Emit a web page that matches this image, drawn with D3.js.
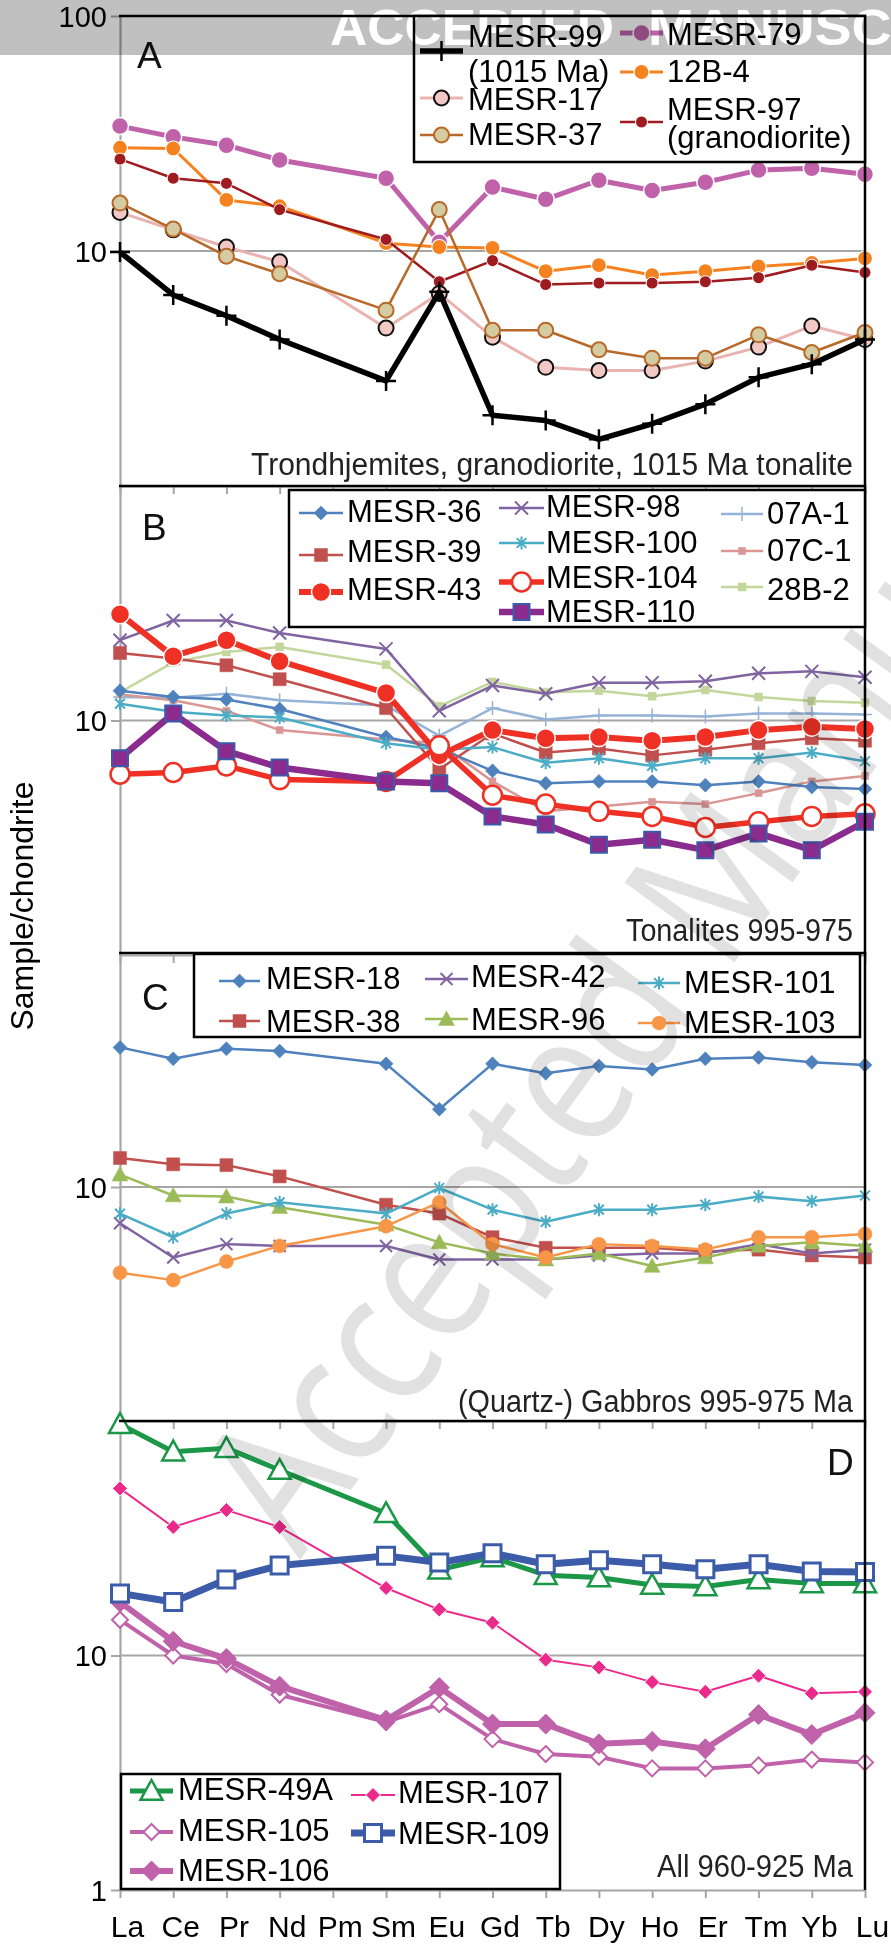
<!DOCTYPE html>
<html>
<head>
<meta charset="utf-8">
<script src="https://cdn.jsdelivr.net/npm/d3@7"></script>
<style>
  html, body { margin: 0; padding: 0; background: #ffffff; }
  svg { display: block; }
  text { font-family: "Liberation Sans", Arial, Helvetica, sans-serif; }
</style>
</head>
<body>
<svg id="chart" width="891" height="1946"></svg>
<script>
// ---------------------------------------------------------------
// Chondrite-normalised REE patterns (Pm not analysed -> null)
// ---------------------------------------------------------------
const ELEMENTS = ["La","Ce","Pr","Nd","Pm","Sm","Eu","Gd","Tb","Dy","Ho","Er","Tm","Yb","Lu"];

// Panel A - trondhjemites, granodiorite, 1015 Ma tonalite
const MESR_99  = [9.9, 6.5, 5.3, 4.2, null, 2.8, 6.7, 2.0, 1.9, 1.58, 1.84, 2.23, 2.9, 3.3, 4.2];
const MESR_79  = [34.0, 30.6, 28.2, 24.4, null, 20.4, 10.9, 18.7, 16.6, 20.0, 18.1, 19.6, 22.1, 22.5, 21.2];
const S_12B_4  = [27.5, 27.3, 16.5, 15.5, null, 10.8, 10.4, 10.3, 8.2, 8.7, 7.9, 8.2, 8.6, 8.9, 9.3];
const MESR_17  = [14.6, 12.3, 10.4, 9.0, null, 4.7, 6.6, 4.3, 3.2, 3.1, 3.1, 3.4, 3.9, 4.8, 4.2];
const MESR_37  = [16.0, 12.4, 9.5, 8.0, null, 5.6, 15.0, 4.6, 4.6, 3.8, 3.5, 3.5, 4.4, 3.7, 4.5];
const MESR_97  = [24.6, 20.4, 19.4, 15.0, null, 11.2, 7.4, 9.1, 7.2, 7.3, 7.3, 7.4, 7.7, 8.7, 8.1];

// Panel B - tonalites 995-975
const MESR_36  = [13.4, 12.6, 12.3, 11.2, null, 8.5, 7.6, 6.1, 5.4, 5.5, 5.5, 5.3, 5.5, 5.2, 5.1];
const MESR_39  = [19.4, 18.4, 17.2, 15.0, null, 11.3, 6.2, 8.8, 7.3, 7.6, 7.1, 7.5, 8.0, 8.4, 8.2];
const MESR_43  = [28.4, 18.8, 22.0, 17.9, null, 13.1, 7.1, 9.1, 8.4, 8.5, 8.2, 8.5, 9.1, 9.4, 9.2];
const MESR_98  = [22.0, 26.7, 26.7, 23.6, null, 20.2, 11.0, 14.1, 13.0, 14.5, 14.5, 14.7, 15.9, 16.2, 15.3];
const MESR_100 = [11.8, 10.9, 10.5, 10.3, null, 8.0, 7.5, 7.7, 6.6, 6.9, 6.4, 6.9, 6.9, 7.3, 6.7];
const MESR_104 = [5.9, 6.0, 6.4, 5.6, null, 5.5, 7.8, 4.8, 4.4, 4.1, 3.9, 3.5, 3.7, 3.9, 4.0];
const MESR_110 = [6.9, 10.7, 7.4, 6.3, null, 5.5, 5.4, 3.9, 3.6, 2.95, 3.1, 2.8, 3.3, 2.8, 3.7];
const S_07A_1  = [12.6, 12.5, 13.0, 12.2, null, 11.6, 8.6, 11.3, 10.1, 10.5, 10.5, 10.4, 10.7, 10.7, 10.6];
const S_07C_1  = [12.9, 12.2, 11.0, 9.1, null, 8.3, 8.0, 5.5, 4.1, 4.3, 4.5, 4.4, 4.9, 5.5, 5.8];
const S_28B_2  = [13.2, 17.7, 19.6, 20.6, null, 17.3, 11.5, 14.6, 13.2, 13.4, 12.7, 13.5, 12.6, 12.1, 11.9];

// Panel C - (quartz-) gabbros 995-975 Ma
const MESR_18  = [39.5, 35.3, 39.0, 38.1, null, 33.6, 21.5, 33.6, 30.6, 32.9, 31.8, 35.3, 35.8, 34.1, 33.2];
const MESR_38  = [13.3, 12.5, 12.4, 11.1, null, 8.4, 7.7, 6.1, 5.5, 5.5, 5.5, 5.3, 5.4, 5.1, 5.0];
const MESR_42  = [7.0, 5.0, 5.7, 5.6, null, 5.6, 4.9, 4.9, 4.9, 5.1, 5.2, 5.2, 5.7, 5.2, 5.4];
const MESR_96  = [11.3, 9.2, 9.1, 8.2, null, 6.9, 5.8, 5.2, 4.9, 5.2, 4.6, 5.0, 5.6, 5.8, 5.6];
const MESR_101 = [7.7, 6.1, 7.7, 8.6, null, 7.7, 9.9, 8.0, 7.1, 8.0, 8.0, 8.4, 9.1, 8.7, 9.2];
const MESR_103 = [4.3, 4.0, 4.8, 5.6, null, 6.8, 8.6, 5.7, 5.0, 5.7, 5.6, 5.4, 6.1, 6.1, 6.3];

// Panel D - all 960-925 Ma
const MESR_49A = [97, 74, 76.6, 61.8, null, 40.4, 23.2, 26.2, 22.0, 21.5, 20.0, 19.7, 21.1, 20.3, 20.3];
const MESR_105 = [14.2, 10.0, 9.2, 6.8, null, 5.2, 6.2, 4.4, 3.8, 3.7, 3.3, 3.3, 3.4, 3.6, 3.5];
const MESR_106 = [16.9, 11.5, 9.7, 7.4, null, 5.3, 7.3, 5.1, 5.1, 4.2, 4.3, 4.0, 5.6, 4.6, 5.7];
const MESR_107 = [51.6, 35.3, 41.7, 35.3, null, 19.4, 15.7, 13.8, 9.6, 8.9, 7.7, 7.0, 8.2, 6.9, 7.0];
const MESR_109 = [18.4, 16.9, 21.1, 24.2, null, 26.6, 24.9, 27.3, 24.5, 25.5, 24.5, 23.3, 24.5, 22.8, 22.7];

// Axis tick labels per panel
const TICKS_A = [100, 10];
const TICKS_B = [10];
const TICKS_C = [10];
const TICKS_D = [10, 1];

// Lookup of sample name -> values
const VALUES = {
  "MESR-99": MESR_99, "MESR-79": MESR_79, "12B-4": S_12B_4, "MESR-17": MESR_17,
  "MESR-37": MESR_37, "MESR-97": MESR_97,
  "MESR-36": MESR_36, "MESR-39": MESR_39, "MESR-43": MESR_43, "MESR-98": MESR_98,
  "MESR-100": MESR_100, "MESR-104": MESR_104, "MESR-110": MESR_110,
  "07A-1": S_07A_1, "07C-1": S_07C_1, "28B-2": S_28B_2,
  "MESR-18": MESR_18, "MESR-38": MESR_38, "MESR-42": MESR_42, "MESR-96": MESR_96,
  "MESR-101": MESR_101, "MESR-103": MESR_103,
  "MESR-49A": MESR_49A, "MESR-105": MESR_105, "MESR-106": MESR_106,
  "MESR-107": MESR_107, "MESR-109": MESR_109
};

// Line and marker styling
const STYLES = {
  "MESR-99":  {line: "#000000", lw: 5.5, mk: "plus",     r: 10,  fill: "none",    stroke: "#000000", sw: 2.5},
  "MESR-79":  {line: "#c062aa", lw: 5,   mk: "circle",   r: 8.5, fill: "#c062aa", stroke: "#ffffff", sw: 1.5},
  "12B-4":    {line: "#f5821f", lw: 3,   mk: "circle",   r: 7.5, fill: "#f5821f", stroke: "#ffffff", sw: 1.2},
  "MESR-17":  {line: "#e9b3b1", lw: 3,   mk: "circle",   r: 7.5, fill: "#f2c8c4", stroke: "#111111", sw: 2},
  "MESR-37":  {line: "#b8692a", lw: 2.5, mk: "circle",   r: 7.5, fill: "#d5cba0", stroke: "#b8692a", sw: 2},
  "MESR-97":  {line: "#9e1b20", lw: 2.5, mk: "circle",   r: 6,   fill: "#9e1b20", stroke: "#ffffff", sw: 1},

  "MESR-36":  {line: "#4f81bd", lw: 2.5, mk: "diamond",  r: 7,   fill: "#4f81bd", stroke: "#4f81bd", sw: 0.5},
  "MESR-39":  {line: "#c0504d", lw: 2.5, mk: "square",   r: 6.5, fill: "#c0504d", stroke: "#c0504d", sw: 0.5},
  "MESR-43":  {line: "#ee3124", lw: 6,   mk: "circle",   r: 9.5, fill: "#ee3124", stroke: "#ffffff", sw: 1.5},
  "MESR-98":  {line: "#8064a2", lw: 2.5, mk: "x",        r: 6.5, fill: "none",    stroke: "#8064a2", sw: 2},
  "MESR-100": {line: "#4bacc6", lw: 2.5, mk: "asterisk", r: 6.5, fill: "none",    stroke: "#4bacc6", sw: 2},
  "MESR-104": {line: "#ee3124", lw: 5.5, mk: "circle",   r: 9.5, fill: "#ffffff", stroke: "#ee3124", sw: 2.5},
  "MESR-110": {line: "#8b2b8e", lw: 6.5, mk: "square",   r: 8,   fill: "#8b2b8e", stroke: "#3b5ba9", sw: 2},
  "07A-1":    {line: "#95b3d7", lw: 2.5, mk: "plus",     r: 7,   fill: "none",    stroke: "#95b3d7", sw: 1.5},
  "07C-1":    {line: "#d99694", lw: 2.5, mk: "square",   r: 3.5, fill: "#d99694", stroke: "#d99694", sw: 0.5},
  "28B-2":    {line: "#c3d69b", lw: 2.5, mk: "square",   r: 4,   fill: "#c3d69b", stroke: "#c3d69b", sw: 0.5},

  "MESR-18":  {line: "#4f81bd", lw: 2.5, mk: "diamond",  r: 7,   fill: "#4f81bd", stroke: "#4f81bd", sw: 0.5},
  "MESR-38":  {line: "#c0504d", lw: 2.5, mk: "square",   r: 6.5, fill: "#c0504d", stroke: "#c0504d", sw: 0.5},
  "MESR-42":  {line: "#8064a2", lw: 2.5, mk: "x",        r: 6,   fill: "none",    stroke: "#8064a2", sw: 2},
  "MESR-96":  {line: "#9bbb59", lw: 2.5, mk: "triangle", r: 8,   fill: "#9bbb59", stroke: "#9bbb59", sw: 0.5},
  "MESR-101": {line: "#4bacc6", lw: 2.5, mk: "asterisk", r: 6.5, fill: "none",    stroke: "#4bacc6", sw: 2},
  "MESR-103": {line: "#f79646", lw: 2.5, mk: "circle",   r: 7,   fill: "#f79646", stroke: "#f79646", sw: 0.5},

  "MESR-49A": {line: "#1b9747", lw: 5,   mk: "triangle", r: 11,  fill: "#ffffff", stroke: "#1b9747", sw: 2.5},
  "MESR-105": {line: "#c062aa", lw: 4,   mk: "diamond",  r: 8,   fill: "#ffffff", stroke: "#c062aa", sw: 2},
  "MESR-106": {line: "#c062aa", lw: 6,   mk: "diamond",  r: 10,  fill: "#c062aa", stroke: "#c062aa", sw: 1},
  "MESR-107": {line: "#ec2a8b", lw: 2,   mk: "diamond",  r: 7.5, fill: "#ec2a8b", stroke: "#ffffff", sw: 1},
  "MESR-109": {line: "#3c5ca9", lw: 7,   mk: "square",   r: 8.5, fill: "#ffffff", stroke: "#3c5ca9", sw: 3}
};

// Panel layout (drawing order of series = list order)
const PANELS = [
  {id: "A", top: 16, bottom: 486, ticks: TICKS_A,
   series: ["MESR-79", "12B-4", "MESR-97", "MESR-17", "MESR-37", "MESR-99"],
   letter: {x: 137, y: 68},
   note: {text: "Trondhjemites, granodiorite, 1015 Ma tonalite", y: 475, len: 602},
   legend: {box: [414, 16, 865, 162], entries: [
     {name: "MESR-99",  sx: [420, 463], sy: 51,  tx: 468, lines: [["MESR-99", 47], ["(1015 Ma)", 82]]},
     {name: "MESR-17",  sx: [420, 463], sy: 98,  tx: 468, lines: [["MESR-17", 110]]},
     {name: "MESR-37",  sx: [420, 463], sy: 135, tx: 468, lines: [["MESR-37", 145]]},
     {name: "MESR-79",  sx: [620, 663], sy: 33,  tx: 667, lines: [["MESR-79", 45]]},
     {name: "12B-4",    sx: [620, 663], sy: 72,  tx: 667, lines: [["12B-4", 82]]},
     {name: "MESR-97",  sx: [620, 663], sy: 122, tx: 667, lines: [["MESR-97", 120], ["(granodiorite)", 148]]}
   ]}},
  {id: "B", top: 486, bottom: 955, ticks: TICKS_B,
   series: ["07A-1", "07C-1", "28B-2", "MESR-36", "MESR-39", "MESR-98", "MESR-100", "MESR-43", "MESR-104", "MESR-110"],
   letter: {x: 142, y: 540},
   note: {text: "Tonalites 995-975", y: 941, len: 227},
   legend: {box: [289, 490, 865, 627], entries: [
     {name: "MESR-36",  sx: [299, 343], sy: 513, tx: 347, lines: [["MESR-36", 522]]},
     {name: "MESR-39",  sx: [299, 343], sy: 555, tx: 347, lines: [["MESR-39", 562]]},
     {name: "MESR-43",  sx: [299, 343], sy: 592, tx: 347, lines: [["MESR-43", 600]]},
     {name: "MESR-98",  sx: [499, 544], sy: 508, tx: 546, lines: [["MESR-98", 517]]},
     {name: "MESR-100", sx: [499, 544], sy: 543, tx: 546, lines: [["MESR-100", 553]]},
     {name: "MESR-104", sx: [499, 544], sy: 582, tx: 546, lines: [["MESR-104", 588]]},
     {name: "MESR-110", sx: [499, 544], sy: 612, tx: 546, lines: [["MESR-110", 622]]},
     {name: "07A-1",    sx: [721, 763], sy: 514, tx: 767, lines: [["07A-1", 524]]},
     {name: "07C-1",    sx: [721, 763], sy: 551, tx: 767, lines: [["07C-1", 561]]},
     {name: "28B-2",    sx: [721, 763], sy: 587, tx: 767, lines: [["28B-2", 600]]}
   ]}},
  {id: "C", top: 953, bottom: 1421, ticks: TICKS_C,
   series: ["MESR-18", "MESR-38", "MESR-42", "MESR-96", "MESR-101", "MESR-103"],
   letter: {x: 142, y: 1010},
   note: {text: "(Quartz-) Gabbros 995-975 Ma", y: 1412, len: 395},
   legend: {box: [194, 954, 860, 1037], entries: [
     {name: "MESR-18",  sx: [219, 260], sy: 981,  tx: 266, lines: [["MESR-18", 989]]},
     {name: "MESR-38",  sx: [219, 260], sy: 1021, tx: 266, lines: [["MESR-38", 1032]]},
     {name: "MESR-42",  sx: [425, 468], sy: 979,  tx: 471, lines: [["MESR-42", 987]]},
     {name: "MESR-96",  sx: [425, 468], sy: 1019, tx: 471, lines: [["MESR-96", 1030]]},
     {name: "MESR-101", sx: [638, 680], sy: 983,  tx: 684, lines: [["MESR-101", 993]]},
     {name: "MESR-103", sx: [638, 680], sy: 1023, tx: 684, lines: [["MESR-103", 1033]]}
   ]}},
  {id: "D", top: 1421, bottom: 1890, ticks: TICKS_D,
   series: ["MESR-107", "MESR-105", "MESR-106", "MESR-49A", "MESR-109"],
   letter: {x: 827, y: 1475},
   note: {text: "All 960-925 Ma", y: 1877, len: 196},
   legend: {box: [121, 1774, 560, 1889], entries: [
     {name: "MESR-49A", sx: [130, 173], sy: 1791, tx: 178, lines: [["MESR-49A", 1800]]},
     {name: "MESR-105", sx: [130, 173], sy: 1832, tx: 178, lines: [["MESR-105", 1841]]},
     {name: "MESR-106", sx: [130, 173], sy: 1871, tx: 178, lines: [["MESR-106", 1881]]},
     {name: "MESR-107", sx: [351, 395], sy: 1795, tx: 398, lines: [["MESR-107", 1803]]},
     {name: "MESR-109", sx: [351, 395], sy: 1833, tx: 398, lines: [["MESR-109", 1844]]}
   ]}}
];

const X_LEFT = 120, X_RIGHT = 865;
const GRID = "#a6a6a6";

const svg = d3.select("#chart");
const x = d3.scalePoint().domain(ELEMENTS).range([X_LEFT, X_RIGHT]);

// Marker outlines centred on (0,0)
function markerPath(type, r) {
  switch (type) {
    case "circle":   return `M${r},0A${r},${r} 0 1,1 ${-r},0A${r},${r} 0 1,1 ${r},0Z`;
    case "diamond":  return `M0,${-r}L${r},0L0,${r}L${-r},0Z`;
    case "square":   return `M${-r},${-r}H${r}V${r}H${-r}Z`;
    case "triangle": return `M0,${-r}L${r},${r * 0.8}L${-r},${r * 0.8}Z`;
    case "plus":     return `M${-r},0H${r}M0,${-r}V${r}`;
    case "x":        return `M${-r},${-r}L${r},${r}M${-r},${r}L${r},${-r}`;
    case "asterisk": {
      const q = r * 0.75;
      return `M${-q},${-q}L${q},${q}M${-q},${q}L${q},${-q}M0,${-r}V${r}`;
    }
  }
  return "";
}

function drawMarker(g, st, cx, cy) {
  g.append("path")
    .attr("d", markerPath(st.mk, st.r))
    .attr("transform", `translate(${cx},${cy})`)
    .attr("fill", st.fill)
    .attr("stroke", st.stroke)
    .attr("stroke-width", st.sw)
    .attr("stroke-linejoin", "miter");
}

const gridLayer = svg.append("g");
const axisLayer = svg.append("g");
const dataLayer = svg.append("g");
const frameLayer = svg.append("g");
const legendLayer = svg.append("g");
const textLayer = svg.append("g");

PANELS.forEach(p => {
  const y = d3.scaleLog().domain([1, 100]).range([p.bottom, p.top]);

  // horizontal gridline at 10
  gridLayer.append("line")
    .attr("x1", X_LEFT).attr("x2", X_RIGHT)
    .attr("y1", y(10)).attr("y2", y(10))
    .attr("stroke", GRID).attr("stroke-width", 2.2);

  // y axis
  const yAxis = d3.axisLeft(y)
    .tickValues(p.ticks)
    .tickFormat(d3.format("d"))
    .tickSize(9).tickSizeOuter(0).tickPadding(4);
  const ya = axisLayer.append("g").attr("transform", `translate(${X_LEFT},0)`).call(yAxis);
  ya.select(".domain").attr("stroke", GRID).attr("stroke-width", 2.2);
  ya.selectAll(".tick line").attr("stroke", GRID).attr("stroke-width", 2);
  ya.selectAll(".tick text")
    .attr("fill", "#000")
    .style("font-size", "29px")
    .style("font-family", "'Liberation Sans', Arial, sans-serif")
    .attr("dy", "0.35em");

  // x axis with downward ticks
  const xAxis = d3.axisBottom(x)
    .tickSize(8).tickSizeOuter(0).tickPadding(18)
    .tickFormat(p.id === "D" ? (d => d) : (() => ""));
  const xa = axisLayer.append("g").attr("transform", `translate(0,${p.bottom})`).call(xAxis);
  xa.select(".domain").attr("stroke", GRID).attr("stroke-width", 2.2);
  xa.selectAll(".tick line").attr("stroke", GRID).attr("stroke-width", 2);
  xa.selectAll(".tick text")
    .attr("fill", "#000")
    .attr("dx", 7)
    .style("font-size", "30px")
    .style("font-family", "'Liberation Sans', Arial, sans-serif");

  // black frame on top and right of each plot area
  frameLayer.append("line")
    .attr("x1", X_LEFT - 1).attr("x2", X_RIGHT + 1.2)
    .attr("y1", p.top).attr("y2", p.top)
    .attr("stroke", "#000").attr("stroke-width", 2.5);
  frameLayer.append("line")
    .attr("x1", X_RIGHT).attr("x2", X_RIGHT)
    .attr("y1", p.top).attr("y2", p.bottom)
    .attr("stroke", "#000").attr("stroke-width", 2.5);

  // series lines + markers
  const line = d3.line().x(d => x(d.el)).y(d => y(d.v));
  p.series.forEach(name => {
    const st = STYLES[name];
    const pts = ELEMENTS.map((el, i) => ({el, v: VALUES[name][i]})).filter(d => d.v != null);
    const g = dataLayer.append("g").attr("class", "series");
    g.append("path")
      .attr("d", line(pts))
      .attr("fill", "none")
      .attr("stroke", st.line)
      .attr("stroke-width", st.lw)
      .attr("stroke-linejoin", "round")
      .attr("stroke-linecap", "butt");
    pts.forEach(d => drawMarker(g, st, x(d.el), y(d.v)));
  });

  // legend
  const L = p.legend;
  legendLayer.append("rect")
    .attr("x", L.box[0]).attr("y", L.box[1])
    .attr("width", L.box[2] - L.box[0]).attr("height", L.box[3] - L.box[1])
    .attr("fill", "#ffffff").attr("stroke", "#000").attr("stroke-width", 2.5);
  L.entries.forEach(e => {
    const st = STYLES[e.name];
    legendLayer.append("line")
      .attr("x1", e.sx[0]).attr("x2", e.sx[1])
      .attr("y1", e.sy).attr("y2", e.sy)
      .attr("stroke", st.line).attr("stroke-width", st.lw);
    drawMarker(legendLayer, st, (e.sx[0] + e.sx[1]) / 2, e.sy);
    e.lines.forEach(([t, by]) => {
      legendLayer.append("text")
        .attr("x", e.tx).attr("y", by)
        .style("font-size", "31px")
        .attr("fill", "#000")
        .text(t);
    });
  });

  // panel letter
  textLayer.append("text")
    .attr("x", p.letter.x).attr("y", p.letter.y)
    .style("font-size", "37px")
    .attr("fill", "#111")
    .text(p.id);

  // panel caption (condensed)
  textLayer.append("text")
    .attr("x", 853).attr("y", p.note.y)
    .attr("text-anchor", "end")
    .attr("textLength", p.note.len)
    .attr("lengthAdjust", "spacingAndGlyphs")
    .style("font-size", "31px")
    .style("font-family", "'Liberation Sans Narrow', 'Liberation Sans', Arial, sans-serif")
    .attr("fill", "#222")
    .text(p.note.text);
});

// y-axis title
svg.append("text")
  .attr("transform", "translate(33,906) rotate(-90)")
  .attr("text-anchor", "middle")
  .style("font-size", "32px")
  .attr("fill", "#000")
  .text("Sample/chondrite");

// diagonal watermark
const wm = svg.append("g").style("mix-blend-mode", "multiply");
wm.append("text")
  .attr("transform", "translate(300,1560) rotate(-54)")
  .attr("textLength", 1560)
  .attr("lengthAdjust", "spacingAndGlyphs")
  .style("font-family", "'Open Sans', 'Noto Sans', sans-serif")
  .style("font-size", "190px")
  .attr("fill", "#e1e1e1")
  .text("Accepted Manuscript");

// header band
const band = svg.append("g").style("mix-blend-mode", "multiply");
band.append("rect").attr("x", 0).attr("y", 0).attr("width", 891).attr("height", 55).attr("fill", "#c0c0c0");
band.append("text")
  .attr("x", 330).attr("y", 45)
  .attr("textLength", 284)
  .attr("lengthAdjust", "spacingAndGlyphs")
  .style("font-size", "50px")
  .style("font-weight", "bold")
  .attr("fill", "#ffffff")
  .text("ACCEPTED");
band.append("text")
  .attr("x", 648).attr("y", 45)
  .attr("textLength", 370)
  .attr("lengthAdjust", "spacingAndGlyphs")
  .style("font-size", "50px")
  .style("font-weight", "bold")
  .attr("fill", "#ffffff")
  .text("MANUSCRIPT");
</script>
</body>
</html>
